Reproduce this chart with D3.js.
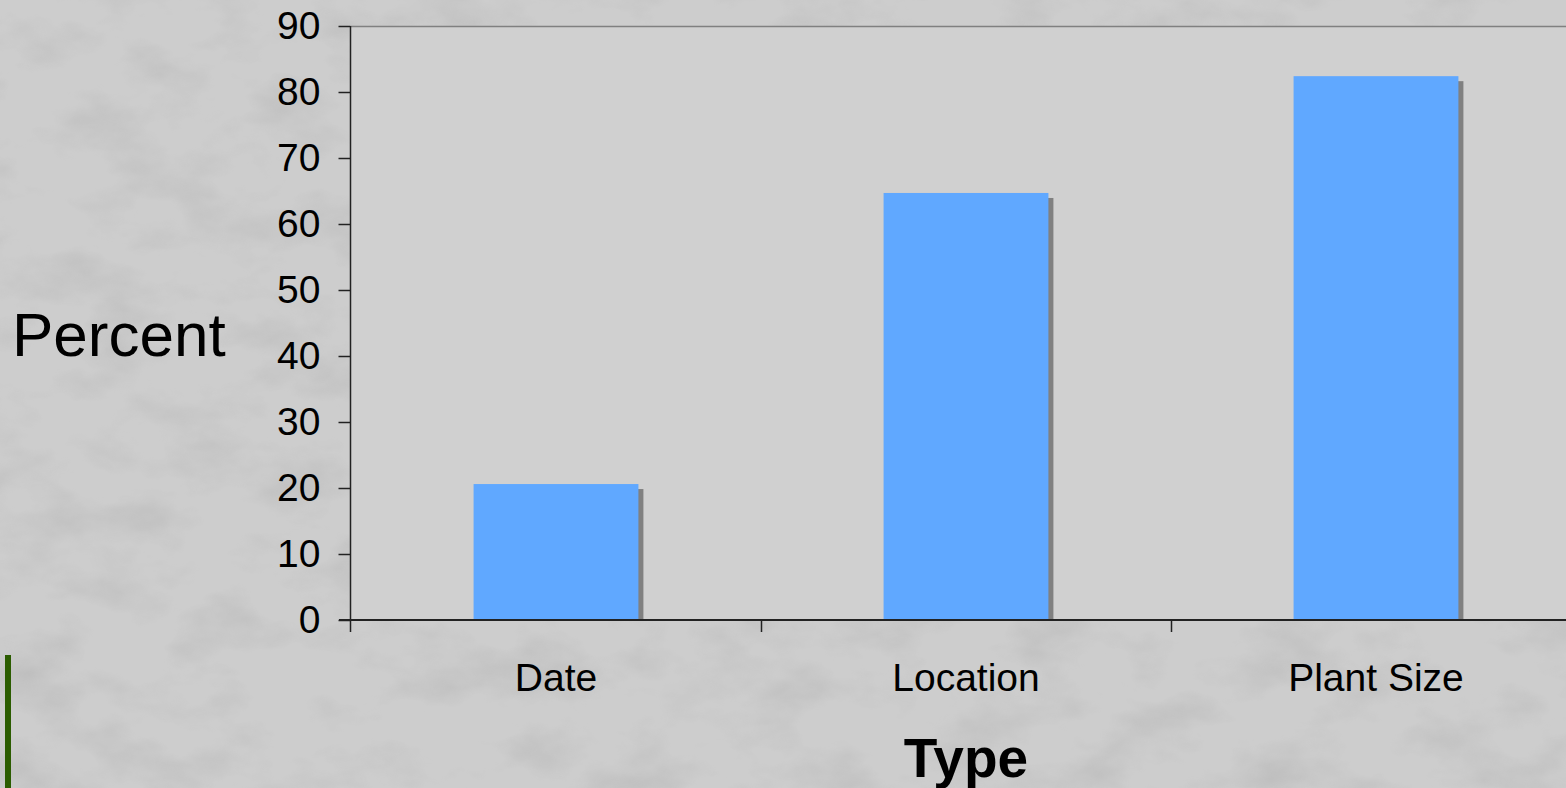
<!DOCTYPE html>
<html>
<head>
<meta charset="utf-8">
<script src="https://cdn.jsdelivr.net/npm/d3@7"></script>
<style>
  body { margin: 0; overflow: hidden; background: #c4c4c4; }
  svg { display: block; font-family: Arial, "Liberation Sans", sans-serif; }
</style>
</head>
<body>
<div id="chart"></div>
<script>
// chart data
let categories = ["Date", "Location", "Plant Size"];
let percents = [20.6, 64.7, 82.4];
let yTicks = [0, 10, 20, 30, 40, 50, 60, 70, 80, 90];

let width = 1566, height = 788;
let plot = {left: 351, top: 26, right: 1581, bottom: 620};

let svg = d3.select("#chart").append("svg")
    .attr("width", width)
    .attr("height", height);

// textured grey backdrop
let defs = svg.append("defs");
let filt = defs.append("filter").attr("id", "marble")
    .attr("x", 0).attr("y", 0).attr("width", "100%").attr("height", "100%");
filt.append("feTurbulence")
    .attr("type", "fractalNoise")
    .attr("baseFrequency", "0.012 0.02")
    .attr("numOctaves", 4)
    .attr("seed", 7);
filt.append("feColorMatrix")
    .attr("type", "matrix")
    .attr("values", "0 0 0 0 0.45  0 0 0 0 0.45  0 0 0 0 0.45  -2 0 0 0 1.1");

svg.append("rect")
    .attr("width", width).attr("height", height)
    .attr("fill", "#cdcdcd");
svg.append("rect")
    .attr("width", width).attr("height", height)
    .attr("filter", "url(#marble)")
    .attr("opacity", 0.55);

// green accent at lower left
svg.append("rect")
    .attr("x", 5).attr("y", 655)
    .attr("width", 6).attr("height", height - 655)
    .attr("fill", "#2b5c00");

// scales
let xScale = d3.scaleBand()
    .domain(categories)
    .range([plot.left, plot.right])
    .padding(0);

let yScale = d3.scaleLinear()
    .domain([0, 90])
    .range([plot.bottom, plot.top]);

let barW = xScale.bandwidth() * 0.402;

// plot area
svg.append("rect")
    .attr("x", plot.left)
    .attr("y", plot.top)
    .attr("width", plot.right - plot.left)
    .attr("height", plot.bottom - plot.top)
    .attr("fill", "#d0d0d0");
svg.append("line")
    .attr("x1", plot.left).attr("x2", plot.right)
    .attr("y1", plot.top + 0.5).attr("y2", plot.top + 0.5)
    .attr("stroke", "#808080")
    .attr("stroke-width", 1.5);

let data = categories.map((c, i) => ({cat: c, value: percents[i]}));

// bar shadows
svg.selectAll(".shadow")
    .data(data)
    .enter()
    .append("rect")
    .attr("class", "shadow")
    .attr("x", d => xScale(d.cat) + (xScale.bandwidth() - barW) / 2 + 5)
    .attr("y", d => yScale(d.value) + 5)
    .attr("width", barW)
    .attr("height", d => yScale(0) - yScale(d.value) - 5)
    .attr("fill", "#808080");

// bars
svg.selectAll(".bar")
    .data(data)
    .enter()
    .append("rect")
    .attr("class", "bar")
    .attr("x", d => xScale(d.cat) + (xScale.bandwidth() - barW) / 2)
    .attr("y", d => yScale(d.value))
    .attr("width", barW)
    .attr("height", d => yScale(0) - yScale(d.value))
    .attr("fill", "#60a8ff");

// y axis
let yAxis = svg.append("g")
    .attr("transform", "translate(" + (plot.left - 0.5) + ",0)")
    .call(d3.axisLeft(yScale).tickValues(yTicks).tickSize(12).tickPadding(18).tickSizeOuter(0));
yAxis.select(".domain").remove();
yAxis.append("line")
    .attr("x1", 0).attr("x2", 0)
    .attr("y1", plot.top).attr("y2", plot.bottom + 12)
    .attr("stroke", "#222").attr("stroke-width", 1.5);
yAxis.selectAll(".tick line").attr("stroke", "#222").attr("stroke-width", 1.5);
yAxis.selectAll(".tick text")
    .attr("fill", "#000")
    .style("font-size", "39px");

// x axis line and boundary ticks
svg.append("line")
    .attr("x1", plot.left - 12).attr("x2", plot.right)
    .attr("y1", plot.bottom).attr("y2", plot.bottom)
    .attr("stroke", "#222").attr("stroke-width", 2);
svg.selectAll(".xtick")
    .data(categories.slice(1))
    .enter()
    .append("line")
    .attr("class", "xtick")
    .attr("x1", d => xScale(d) + 0.5).attr("x2", d => xScale(d) + 0.5)
    .attr("y1", plot.bottom).attr("y2", plot.bottom + 12)
    .attr("stroke", "#222").attr("stroke-width", 1.5);

// category labels
svg.selectAll(".cat-text")
    .data(categories)
    .enter()
    .append("text")
    .attr("class", "cat-text")
    .attr("x", d => xScale(d) + xScale.bandwidth() / 2)
    .attr("y", 691)
    .attr("text-anchor", "middle")
    .style("font-size", "39px")
    .text(d => d);

// axis titles
svg.append("text")
    .attr("x", 966)
    .attr("y", 777)
    .attr("text-anchor", "middle")
    .style("font-size", "55px")
    .style("font-weight", "bold")
    .text("Type");

svg.append("text")
    .attr("x", 12)
    .attr("y", 356)
    .style("font-size", "62px")
    .text("Percent");
</script>
</body>
</html>
